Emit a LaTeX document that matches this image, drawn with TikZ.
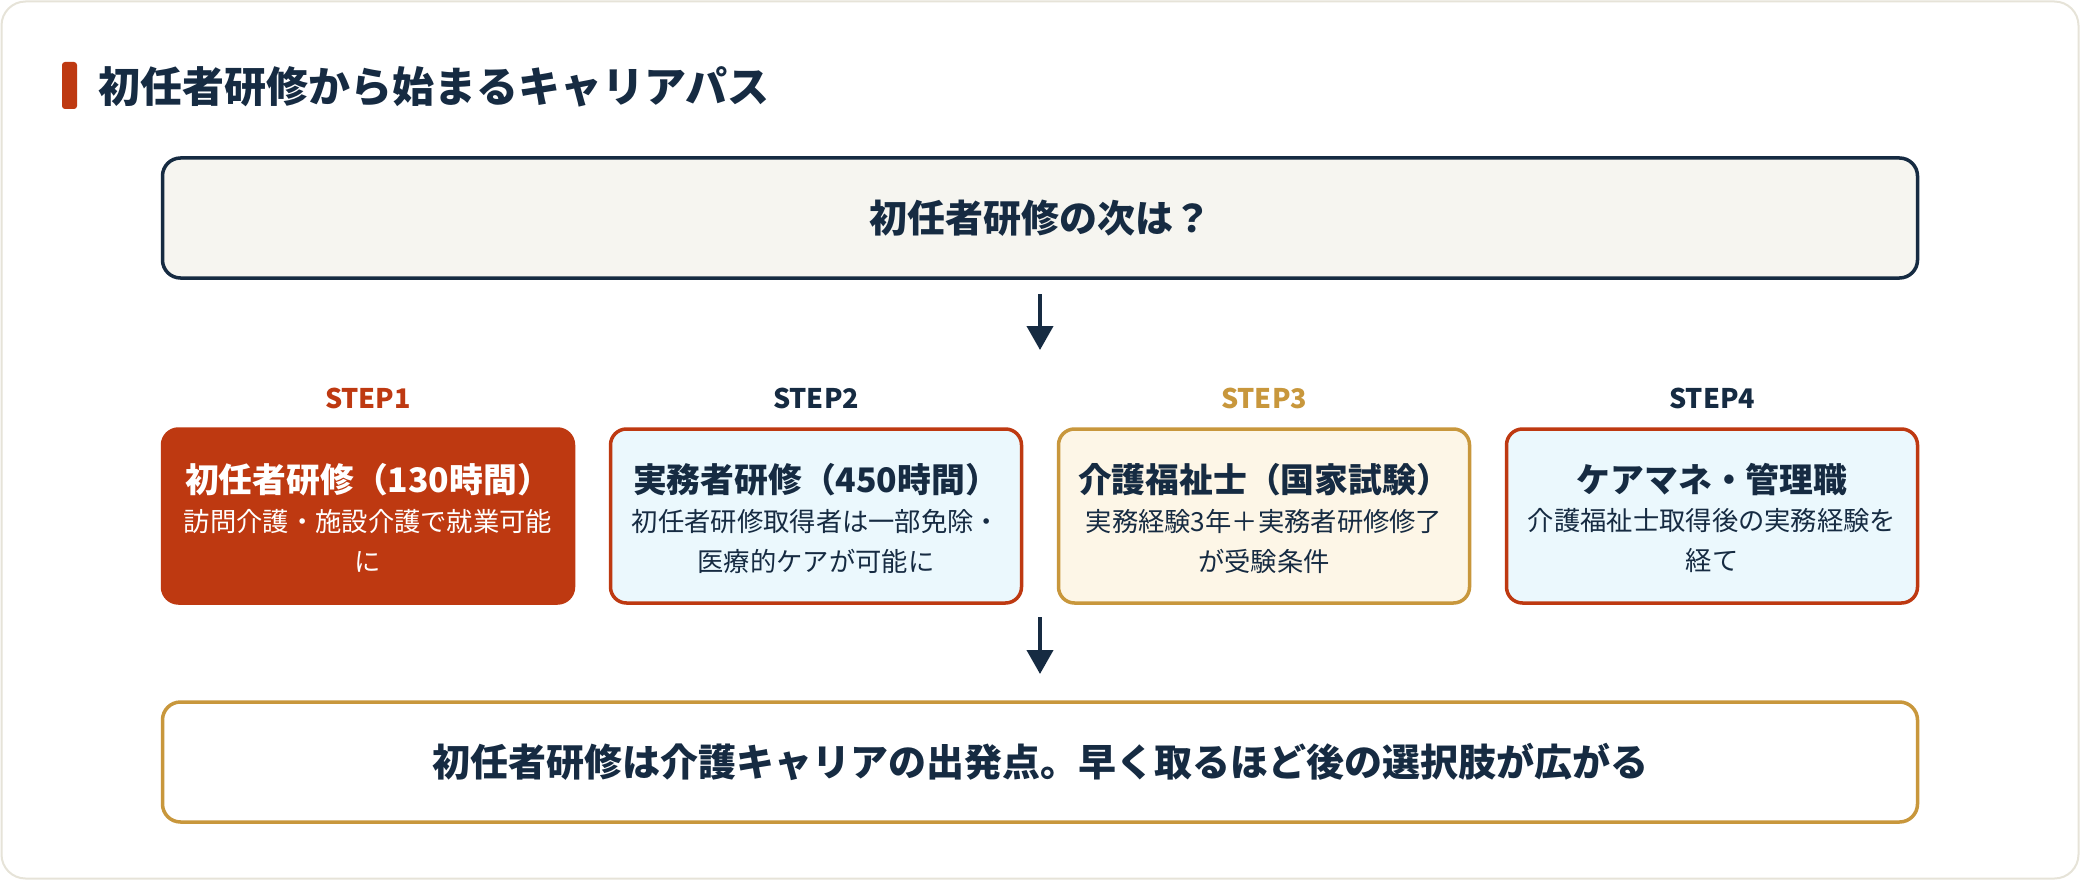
\documentclass[tikz,border=0pt]{standalone}
\usepackage{fontspec}
\setmainfont{Noto Sans CJK JP}
\usetikzlibrary{arrows.meta,positioning}
\definecolor{navy}{HTML}{162B42}
\definecolor{rust}{HTML}{BE3911}
\definecolor{gold}{HTML}{C8973C}
\definecolor{panelline}{HTML}{E6E3D8}
\definecolor{qfill}{HTML}{F6F5F0}
\definecolor{bluefill}{HTML}{EBF8FD}
\definecolor{creamfill}{HTML}{FDF6E7}
\tikzset{
  stepbox/.style={rounded corners=16pt, line width=3.5pt, minimum width=411pt, minimum height=174pt, inner sep=0pt},
  wide/.style={rounded corners=18pt, line width=3.5pt, minimum width=1755pt, minimum height=120pt, inner sep=0pt},
  steplabel/.style={font=\fontsize{27}{30}\selectfont\bfseries},
  boxtitle/.style={font=\fontsize{33.8}{40}\selectfont\bfseries, text=navy},
  boxsub/.style={font=\fontsize{26.3}{40}\selectfont, text=navy, align=center},
  flow/.style={draw=navy, line width=4pt, -{Triangle[width=26pt,length=24pt]}},
}
\begin{document}
\begin{tikzpicture}[x=1pt,y=-1pt]
\useasboundingbox (0,0) rectangle (2080,880);
\draw[draw=panelline, line width=2pt, fill=white, rounded corners=24pt] (1.5,1.5) rectangle (2078.5,878.5);
% title
\fill[rust, rounded corners=3pt] (62,62) rectangle (77,109);
\node[anchor=west, inner sep=0pt, text=navy, font=\fontsize{42}{48}\selectfont\bfseries] (title) at (98,87) {初任者研修から始まるキャリアパス};
% question box
\node[wide, draw=navy, fill=qfill, text=navy, font=\fontsize{38}{44}\selectfont\bfseries] (q) at (1040,218) {初任者研修の次は？};
% steps
\node[stepbox, draw=rust, fill=rust] (s1) at (368,516) {};
\node[stepbox, draw=rust, fill=bluefill] (s2) at (816,516) {};
\node[stepbox, draw=gold, fill=creamfill] (s3) at (1264,516) {};
\node[stepbox, draw=rust, fill=bluefill] (s4) at (1712,516) {};
\node[steplabel, text=rust] (l1) at (368,398) {STEP1};
\node[steplabel, text=navy] (l2) at (816,398) {STEP2};
\node[steplabel, text=gold] (l3) at (1264,398) {STEP3};
\node[steplabel, text=navy] (l4) at (1712,398) {STEP4};
\node[boxtitle, text=white] (t1) at (368,480) {初任者研修（130時間）};
\node[boxtitle] (t2) at (816,480) {実務者研修（450時間）};
\node[boxtitle] (t3) at (1264,480) {介護福祉士（国家試験）};
\node[boxtitle] (t4) at (1712,480) {ケアマネ・管理職};
\node[boxsub, text=white] (d1) at (368,541) {訪問介護・施設介護で就業可能\\に};
\node[boxsub] (d2) at (816,541) {初任者研修取得者は一部免除・\\医療的ケアが可能に};
\node[boxsub] (d3) at (1264,541) {実務経験3年＋実務者研修修了\\が受験条件};
\node[boxsub] (d4) at (1712,541) {介護福祉士取得後の実務経験を\\経て};
% result box
\node[wide, draw=gold, fill=white, text=navy, font=\fontsize{38}{44}\selectfont\bfseries] (r) at (1040,762) {初任者研修は介護キャリアの出発点。早く取るほど後の選択肢が広がる};
% arrows
\coordinate (a1s) at (1040,294);
\coordinate (a1e) at (1040,350);
\coordinate (a2s) at (1040,617);
\coordinate (a2e) at (1040,674);
\draw[flow] (a1s) -- (a1e);
\draw[flow] (a2s) -- (a2e);
\end{tikzpicture}
\end{document}
